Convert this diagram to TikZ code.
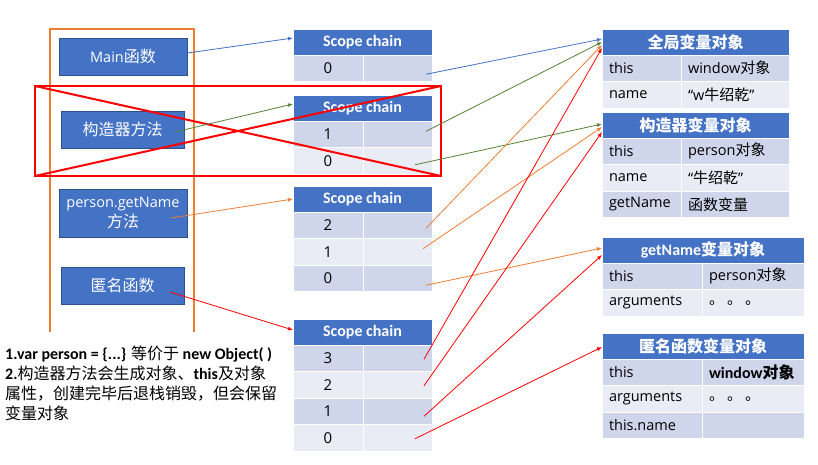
\documentclass[tikz,border=0pt]{standalone}
\usepackage{fontspec}
\setmainfont{Open Sans}
\newfontfamily\cjk{Noto Sans CJK SC}
\newfontfamily\calfont{Carlito}
\usetikzlibrary{arrows.meta}
\definecolor{hdrblue}{HTML}{4472C4}
\definecolor{nodeborder}{HTML}{2F528F}
\definecolor{banddark}{HTML}{CFD5EA}
\definecolor{bandlight}{HTML}{E9EBF5}
\definecolor{orangec}{HTML}{ED7D31}
\definecolor{greenc}{HTML}{548235}
\definecolor{bluec}{HTML}{4472C4}
\definecolor{redc}{HTML}{FF0000}
\def\zhsize{15}
\newcommand\zh[1]{{\cjk\fontsize{\zhsize}{\zhsize}\selectfont #1}}
\newcommand\zhr[1]{{\cjk\mdseries\fontsize{\zhsize}{\zhsize}\selectfont #1}}
\newcommand\hdrf{\calfont\bfseries\fontsize{16}{18}\selectfont\def\zhsize{16}}
\newcommand\rowf{\fontsize{14.5}{17}\selectfont\def\zhsize{15}}
\newcommand\digf{\fontsize{15}{17}\selectfont}
\newcommand\nodef{\fontsize{14.5}{21}\selectfont\def\zhsize{16}}
\newcommand\notef{\calfont\bfseries\fontsize{16}{20}\selectfont\def\zhsize{16}}
\newcommand\ellip{\zh{。}\hspace{3pt}\zh{。}\hspace{3pt}\zh{。}}
\tikzset{
  cellbase/.style={rectangle, draw=white, line width=1pt, inner sep=0pt, outer sep=0pt, anchor=north west},
  hdr/.style={cellbase, fill=hdrblue, minimum height=26pt, text=white, font=\hdrf},
  dk/.style={cellbase, fill=banddark, minimum height=26.5pt, font=\rowf},
  lt/.style={cellbase, fill=bandlight, minimum height=26.5pt, font=\rowf},
  dg/.style={font=\digf, minimum width=70pt},
  emp/.style={minimum width=69pt},
  txt/.style={align=left, text width=#1, inner xsep=7pt},
  fnode/.style={rectangle, fill=hdrblue, draw=nodeborder, line width=1pt, text=white, inner sep=0pt, align=center, font=\nodef},
  arr/.style={-{Latex[length=5pt,width=4pt]}, line width=0.8pt},
}
\begin{document}
\begin{tikzpicture}[x=1pt,y=-1pt]
\useasboundingbox (0,0) rectangle (818,464);
% stack frame
\draw[orangec, line width=1.5pt] (50,332) -- (50,29) -- (194,29) -- (194,332);
\node[fnode, minimum width=128pt, minimum height=37pt] (main) at (123,56.5) {Main\zh{函数}};
\node[fnode, minimum width=123pt, minimum height=37pt] (ctor) at (122.5,129.5) {\zh{构造器方法}};
\node[fnode, minimum width=128pt, minimum height=48pt] (getn) at (123,213) {person.getName\\[-1pt]\zh{方法}};
\node[fnode, minimum width=123pt, minimum height=37pt] (anon) at (122.5,285.5) {\zh{匿名函数}};
% scope chain tables
\node[hdr, minimum width=139pt] (t1h) at (293,29) {Scope chain};
\node[dk, dg] (t1r0l) at (293,55) {0};
\node[dk, emp] (t1r0v) at (363,55) {};

\node[hdr, minimum width=139pt] (t2h) at (293,95) {Scope chain};
\node[dk, dg] (t2r1l) at (293,121) {1};
\node[dk, emp] (t2r1v) at (363,121) {};
\node[lt, dg] (t2r0l) at (293,147.5) {0};
\node[lt, emp] (t2r0v) at (363,147.5) {};

\node[hdr, minimum width=139pt] (t3h) at (293,186) {Scope chain};
\node[dk, dg] (t3r2l) at (293,212) {2};
\node[dk, emp] (t3r2v) at (363,212) {};
\node[lt, dg] (t3r1l) at (293,238.5) {1};
\node[lt, emp] (t3r1v) at (363,238.5) {};
\node[dk, dg] (t3r0l) at (293,265) {0};
\node[dk, emp] (t3r0v) at (363,265) {};

\node[hdr, minimum width=139pt] (t4h) at (293,319) {Scope chain};
\node[dk, dg] (t4r3l) at (293,345) {3};
\node[dk, emp] (t4r3v) at (363,345) {};
\node[lt, dg] (t4r2l) at (293,371.5) {2};
\node[lt, emp] (t4r2v) at (363,371.5) {};
\node[dk, dg] (t4r1l) at (293,398) {1};
\node[dk, emp] (t4r1v) at (363,398) {};
\node[lt, dg] (t4r0l) at (293,424.5) {0};
\node[lt, emp] (t4r0v) at (363,424.5) {};
% variable objects
\node[hdr, minimum width=187pt] (g0h) at (602,29) {\zh{全局变量对象}};
\node[dk, txt=65pt] (g0a) at (602,55) {this};
\node[dk, txt=94pt] (g0b) at (681,55) {window\zh{对象}};
\node[lt, txt=65pt] (g0c) at (602,81.5) {name};
\node[lt, txt=94pt] (g0d) at (681,81.5) {“w\zh{牛绍乾}”};

\node[hdr, minimum width=187pt] (ch) at (602,112) {\zh{构造器变量对象}};
\node[dk, txt=65pt] (ca) at (602,138) {this};
\node[dk, txt=94pt] (cb) at (681,138) {person\zh{对象}};
\node[lt, txt=65pt] (cc) at (602,164.5) {name};
\node[lt, txt=94pt] (cd) at (681,164.5) {“\zh{牛绍乾}”};
\node[dk, txt=65pt] (ce) at (602,191) {getName};
\node[dk, txt=94pt] (cf) at (681,191) {\zh{函数变量}};

\node[hdr, minimum width=202pt] (gh) at (602,237) {getName\zh{变量对象}};
\node[dk, txt=86pt] (ga) at (602,263) {this};
\node[dk, txt=88pt] (gb) at (702,263) {person\zh{对象}};
\node[lt, txt=86pt] (gc) at (602,289.5) {arguments};
\node[lt, txt=88pt] (gd) at (702,289.5) {\ellip};

\node[hdr, minimum width=202pt] (ah) at (602,333) {\zh{匿名函数变量对象}};
\node[dk, txt=86pt] (aa) at (602,359) {this};
\node[dk, txt=88pt] (ab) at (702,359) {{\calfont\bfseries\fontsize{16}{18}\selectfont window\def\zhsize{16}\zh{对象}}};
\node[lt, txt=86pt] (ac) at (602,385.5) {arguments};
\node[lt, txt=88pt] (ad) at (702,385.5) {\ellip};
\node[dk, txt=86pt] (ae) at (602,412) {this.name};
\node[dk, txt=88pt] (af) at (702,412) {};
% crossed-out frame
\node[rectangle, draw=redc, line width=2.5pt, inner sep=0pt, outer sep=0pt, minimum width=406pt, minimum height=90pt] (cross) at (238,131) {};
\draw[redc, line width=2pt] (cross.north west) -- (cross.south east);
\draw[redc, line width=2pt] (cross.south west) -- (cross.north east);
% note
\node[anchor=north west, align=left, inner sep=0pt, font=\notef] (note) at (5,346)
  {1.var person = \{...\} \zhr{等价于} new Object( )\\
   2.\zhr{构造器方法会生成对象、}this\zhr{及对象}\\
   \zhr{属性，创建完毕后退栈销毁，但会保留}\\
   \zhr{变量对象}};
% arrows
\draw[arr, bluec] ([yshift=3.5pt]main.east) -- ([yshift=4pt]t1h.west);
\draw[arr, bluec] ([xshift=28.5pt,yshift=-6pt]t1r0v.center) -- ([yshift=3pt]g0h.west);
\draw[arr, greenc] ([xshift=52.5pt,yshift=-2.5pt]ctor.center) -- ([yshift=4pt]t2h.west);
\draw[arr, greenc] ([xshift=28.5pt,yshift=3pt]t2r1v.center) -- (g0h.west);
\draw[arr, greenc] ([xshift=17.5pt,yshift=-4pt]t2r0v.center) -- ([yshift=1pt]ch.west);
\draw[arr, orangec] ([xshift=48pt,yshift=-5pt]getn.center) -- (t3h.west);
\draw[arr, orangec] ([xshift=28.5pt,yshift=-3pt]t3r2v.center) -- ([yshift=-3pt]g0h.west);
\draw[arr, orangec] ([xshift=25.5pt,yshift=3pt]t3r1v.center) -- ([yshift=-2pt]ch.west);
\draw[arr, orangec] ([xshift=28.5pt,yshift=-7pt]t3r0v.center) -- ([yshift=2pt]gh.west);
\draw[arr, redc] ([xshift=47.5pt,yshift=-6.5pt]anon.center) -- ([yshift=2pt]t4h.west);
\draw[arr, redc] ([xshift=26.5pt,yshift=-1pt]t4r3v.center) -- ([yshift=-6pt]g0h.west);
\draw[arr, redc] ([xshift=26.5pt,yshift=-1pt]t4r2v.center) -- ([yshift=-7pt]ch.west);
\draw[arr, redc] ([xshift=26.5pt,yshift=-5pt]t4r1v.center) -- ([yshift=-5pt]gh.west);
\draw[arr, redc] ([xshift=17.5pt,yshift=-1pt]t4r0v.center) -- ([yshift=-1pt]ah.west);
\end{tikzpicture}
\end{document}
